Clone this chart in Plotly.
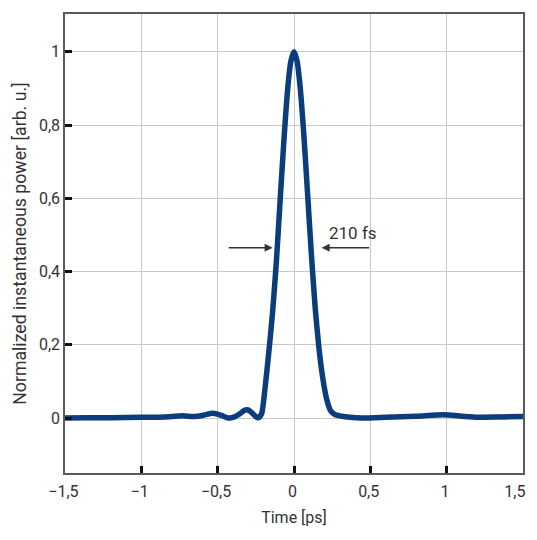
import plotly.graph_objects as go

# Time axis [ps] and normalized instantaneous power
time_ps = [-1.5, -1.35, -1.2, -1.0, -0.85, -0.73, -0.66, -0.6, -0.53, -0.475, -0.43, -0.39,
           -0.35, -0.325, -0.3, -0.275, -0.25, -0.232, -0.212, -0.19, -0.165, -0.14, -0.115, -0.09,
           -0.065, -0.04, -0.02, 0.0, 0.02, 0.04, 0.065, 0.09, 0.115, 0.14, 0.165, 0.19,
           0.215, 0.24, 0.27, 0.3, 0.35, 0.45, 0.6, 0.8, 0.98, 1.1, 1.2, 1.35, 1.5]
power = [0.0, 0.001, 0.001, 0.002, 0.003, 0.006, 0.004, 0.007, 0.013, 0.007, 0.0, 0.003,
         0.013, 0.021, 0.022, 0.014, 0.004, 0.001, 0.012, 0.08, 0.18, 0.29, 0.43, 0.60,
         0.765, 0.905, 0.975, 1.0, 0.975, 0.905, 0.77, 0.605, 0.44, 0.295, 0.185, 0.105,
         0.05, 0.02, 0.009, 0.006, 0.003, 0.0, 0.002, 0.005, 0.009, 0.005, 0.002, 0.003, 0.004]

x_ticks = [-1.5, -1, -0.5, 0, 0.5, 1, 1.5]
x_labels = ["\u22121,5\u2009", "\u22121\u2009", "\u22120,5\u2009", "0\u2009", "0,5\u2009",
            "1\u2009", "1,5\u2002\u2002"]
y_ticks = [0, 0.2, 0.4, 0.6, 0.8, 1]
y_labels = ["0", "0,2", "0,4", "0,6", "0,8", "1"]

fwhm_label = "210 fs"
arrow_y = 0.465
left_arrow = (-0.437, -0.14)
right_arrow = (0.502, 0.181)
label_pos = (0.384, 0.504)

fig = go.Figure()
fig.add_trace(go.Scatter(
    x=time_ps, y=power, mode="lines",
    line=dict(color="#0b3c7c", width=5.5, shape="spline", smoothing=0.6),
    showlegend=False, hoverinfo="skip",
))

font_col = "#333333"
for tail, head in (left_arrow, right_arrow):
    fig.add_annotation(x=head, y=arrow_y, ax=tail, ay=arrow_y,
                       xref="x", yref="y", axref="x", ayref="y", text="",
                       showarrow=True, arrowhead=2, arrowsize=1, arrowwidth=1.6,
                       arrowcolor="#333333")
fig.add_annotation(x=label_pos[0], y=label_pos[1], xref="x", yref="y",
                   text=fwhm_label, showarrow=False,
                   font=dict(family="Roboto", size=17, color=font_col))

axis_common = dict(
    showgrid=True, gridcolor="#c9c9c9", gridwidth=1,
    showline=True, linecolor="#5a5a5a", linewidth=1.5, mirror=True,
    ticks="inside", tickcolor="#111111", tickwidth=3, ticklen=7,
    zeroline=False, automargin=False, ticklabeloverflow="allow",
    tickfont=dict(family="Roboto", size=16, color=font_col),
)

# page body adds an 8px offset; figure sized to fit the 537x540 window
fig.update_layout(
    width=529, height=524,
    margin=dict(l=57, r=14, t=6, b=59),
    paper_bgcolor="white", plot_bgcolor="white",
    font=dict(family="Roboto", color=font_col),
    xaxis=dict(range=[-1.5, 1.5], tickvals=x_ticks, ticktext=x_labels,
               ticklabelstandoff=3,
               title=dict(text="Time [ps]", font=dict(family="Roboto", size=16, color=font_col),
                          standoff=12),
               **axis_common),
    yaxis=dict(range=[-0.15, 1.103], tickvals=y_ticks, ticktext=y_labels,
               title=dict(text="Normalized instantaneous power [arb. u.]",
                          font=dict(family="Roboto", size=17.7, color=font_col), standoff=8),
               **axis_common),
)

fig.write_html("out.html")
